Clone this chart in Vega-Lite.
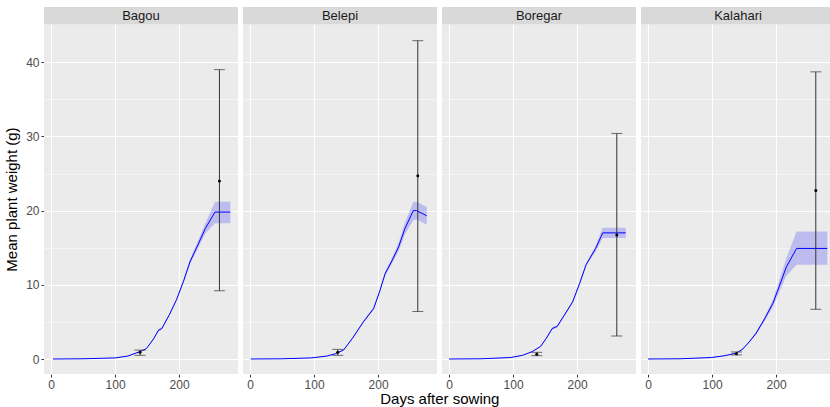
{
  "$schema": "https://vega.github.io/schema/vega-lite/v6.json",
  "padding": {"left": 4, "top": 7, "right": 0, "bottom": 2},
  "background": "white",
  "title": {"text": "Days after sowing", "orient": "bottom", "anchor": "middle", "dx": 20, "fontSize": 15, "fontWeight": "normal", "color": "black", "font": "Liberation Sans", "offset": 2},
  "config": {
    "font": "Liberation Sans",
    "view": {"stroke": null, "fill": "#EBEBEB"},
    "axis": {"domain": false, "gridColor": "white", "tickColor": "#333333", "tickSize": 3, "labelColor": "#4D4D4D", "labelFontSize": 12, "titleFontSize": 15, "titleColor": "black", "titleFontWeight": "normal", "labelPadding": 2, "titlePadding": 6},
    "facet": {"spacing": 5}
  },
  "data": {"values": [
    {"type": "strip", "variety": "Bagou"},
    {"type": "strip", "variety": "Belepi"},
    {"type": "strip", "variety": "Boregar"},
    {"type": "strip", "variety": "Kalahari"},

    {"type": "fit", "variety": "Bagou", "day": 3, "fit": 0, "lo": 0, "hi": 0},
    {"type": "fit", "variety": "Bagou", "day": 50, "fit": 0.03, "lo": 0.02, "hi": 0.04},
    {"type": "fit", "variety": "Bagou", "day": 100, "fit": 0.15, "lo": 0.12, "hi": 0.18},
    {"type": "fit", "variety": "Bagou", "day": 120, "fit": 0.4, "lo": 0.36, "hi": 0.44},
    {"type": "fit", "variety": "Bagou", "day": 139, "fit": 1.0, "lo": 0.95, "hi": 1.05},
    {"type": "fit", "variety": "Bagou", "day": 149, "fit": 1.4, "lo": 1.34, "hi": 1.46},
    {"type": "fit", "variety": "Bagou", "day": 160, "fit": 2.7, "lo": 2.6, "hi": 2.8},
    {"type": "fit", "variety": "Bagou", "day": 168, "fit": 3.9, "lo": 3.75, "hi": 4.05},
    {"type": "fit", "variety": "Bagou", "day": 173, "fit": 4.1, "lo": 3.95, "hi": 4.25},
    {"type": "fit", "variety": "Bagou", "day": 185, "fit": 6.0, "lo": 5.85, "hi": 6.15},
    {"type": "fit", "variety": "Bagou", "day": 196, "fit": 8.0, "lo": 7.85, "hi": 8.15},
    {"type": "fit", "variety": "Bagou", "day": 207, "fit": 10.5, "lo": 10.3, "hi": 10.7},
    {"type": "fit", "variety": "Bagou", "day": 217, "fit": 13.1, "lo": 12.75, "hi": 13.45},
    {"type": "fit", "variety": "Bagou", "day": 230, "fit": 15.5, "lo": 15.0, "hi": 16.0},
    {"type": "fit", "variety": "Bagou", "day": 241, "fit": 17.6, "lo": 16.9, "hi": 18.3},
    {"type": "fit", "variety": "Bagou", "day": 256, "fit": 19.8, "lo": 18.3, "hi": 21.2},
    {"type": "fit", "variety": "Bagou", "day": 280, "fit": 19.8, "lo": 18.3, "hi": 21.2},

    {"type": "fit", "variety": "Belepi", "day": 1, "fit": 0, "lo": 0, "hi": 0},
    {"type": "fit", "variety": "Belepi", "day": 50, "fit": 0.03, "lo": 0.02, "hi": 0.04},
    {"type": "fit", "variety": "Belepi", "day": 96, "fit": 0.15, "lo": 0.12, "hi": 0.18},
    {"type": "fit", "variety": "Belepi", "day": 120, "fit": 0.4, "lo": 0.36, "hi": 0.44},
    {"type": "fit", "variety": "Belepi", "day": 133, "fit": 0.7, "lo": 0.65, "hi": 0.75},
    {"type": "fit", "variety": "Belepi", "day": 146, "fit": 1.2, "lo": 1.14, "hi": 1.26},
    {"type": "fit", "variety": "Belepi", "day": 160, "fit": 2.8, "lo": 2.7, "hi": 2.9},
    {"type": "fit", "variety": "Belepi", "day": 177, "fit": 5.0, "lo": 4.85, "hi": 5.15},
    {"type": "fit", "variety": "Belepi", "day": 193, "fit": 6.8, "lo": 6.6, "hi": 7.0},
    {"type": "fit", "variety": "Belepi", "day": 202, "fit": 9.0, "lo": 8.8, "hi": 9.2},
    {"type": "fit", "variety": "Belepi", "day": 211, "fit": 11.5, "lo": 11.2, "hi": 11.8},
    {"type": "fit", "variety": "Belepi", "day": 222, "fit": 13.3, "lo": 12.9, "hi": 13.7},
    {"type": "fit", "variety": "Belepi", "day": 232, "fit": 15.1, "lo": 14.5, "hi": 15.7},
    {"type": "fit", "variety": "Belepi", "day": 242, "fit": 17.6, "lo": 16.8, "hi": 18.4},
    {"type": "fit", "variety": "Belepi", "day": 255, "fit": 20.0, "lo": 18.7, "hi": 21.2},
    {"type": "fit", "variety": "Belepi", "day": 260, "fit": 20.0, "lo": 18.8, "hi": 21.2},
    {"type": "fit", "variety": "Belepi", "day": 276, "fit": 19.3, "lo": 18.1, "hi": 20.5},

    {"type": "fit", "variety": "Boregar", "day": 0, "fit": 0, "lo": 0, "hi": 0},
    {"type": "fit", "variety": "Boregar", "day": 50, "fit": 0.03, "lo": 0.02, "hi": 0.04},
    {"type": "fit", "variety": "Boregar", "day": 96, "fit": 0.2, "lo": 0.17, "hi": 0.23},
    {"type": "fit", "variety": "Boregar", "day": 115, "fit": 0.5, "lo": 0.46, "hi": 0.54},
    {"type": "fit", "variety": "Boregar", "day": 130, "fit": 1.0, "lo": 0.95, "hi": 1.05},
    {"type": "fit", "variety": "Boregar", "day": 143, "fit": 1.7, "lo": 1.63, "hi": 1.77},
    {"type": "fit", "variety": "Boregar", "day": 152, "fit": 2.8, "lo": 2.7, "hi": 2.9},
    {"type": "fit", "variety": "Boregar", "day": 161, "fit": 4.1, "lo": 3.95, "hi": 4.25},
    {"type": "fit", "variety": "Boregar", "day": 169, "fit": 4.4, "lo": 4.25, "hi": 4.55},
    {"type": "fit", "variety": "Boregar", "day": 180, "fit": 5.9, "lo": 5.75, "hi": 6.05},
    {"type": "fit", "variety": "Boregar", "day": 193, "fit": 7.7, "lo": 7.55, "hi": 7.85},
    {"type": "fit", "variety": "Boregar", "day": 204, "fit": 10.2, "lo": 10.0, "hi": 10.4},
    {"type": "fit", "variety": "Boregar", "day": 214, "fit": 12.7, "lo": 12.5, "hi": 12.9},
    {"type": "fit", "variety": "Boregar", "day": 229, "fit": 14.9, "lo": 14.5, "hi": 15.3},
    {"type": "fit", "variety": "Boregar", "day": 240, "fit": 17.0, "lo": 16.3, "hi": 17.7},
    {"type": "fit", "variety": "Boregar", "day": 276, "fit": 17.0, "lo": 16.3, "hi": 17.7},

    {"type": "fit", "variety": "Kalahari", "day": 0, "fit": 0, "lo": 0, "hi": 0},
    {"type": "fit", "variety": "Kalahari", "day": 50, "fit": 0.03, "lo": 0.02, "hi": 0.04},
    {"type": "fit", "variety": "Kalahari", "day": 99, "fit": 0.2, "lo": 0.17, "hi": 0.23},
    {"type": "fit", "variety": "Kalahari", "day": 120, "fit": 0.45, "lo": 0.41, "hi": 0.49},
    {"type": "fit", "variety": "Kalahari", "day": 138, "fit": 0.8, "lo": 0.75, "hi": 0.85},
    {"type": "fit", "variety": "Kalahari", "day": 148, "fit": 1.35, "lo": 1.28, "hi": 1.42},
    {"type": "fit", "variety": "Kalahari", "day": 158, "fit": 2.3, "lo": 2.2, "hi": 2.4},
    {"type": "fit", "variety": "Kalahari", "day": 169, "fit": 3.5, "lo": 3.3, "hi": 3.7},
    {"type": "fit", "variety": "Kalahari", "day": 182, "fit": 5.4, "lo": 5.1, "hi": 5.7},
    {"type": "fit", "variety": "Kalahari", "day": 195, "fit": 7.5, "lo": 7.0, "hi": 8.0},
    {"type": "fit", "variety": "Kalahari", "day": 205, "fit": 9.8, "lo": 9.0, "hi": 10.6},
    {"type": "fit", "variety": "Kalahari", "day": 216, "fit": 12.4, "lo": 11.2, "hi": 13.6},
    {"type": "fit", "variety": "Kalahari", "day": 232, "fit": 14.9, "lo": 12.7, "hi": 17.2},
    {"type": "fit", "variety": "Kalahari", "day": 280, "fit": 14.9, "lo": 12.7, "hi": 17.2},

    {"type": "obs", "variety": "Bagou", "day": 139, "mean": 0.9, "lo": 0.5, "hi": 1.2},
    {"type": "obs", "variety": "Bagou", "day": 263, "mean": 24.0, "lo": 9.2, "hi": 39.0},
    {"type": "obs", "variety": "Belepi", "day": 137, "mean": 0.9, "lo": 0.5, "hi": 1.3},
    {"type": "obs", "variety": "Belepi", "day": 262, "mean": 24.7, "lo": 6.4, "hi": 42.9},
    {"type": "obs", "variety": "Boregar", "day": 137, "mean": 0.65, "lo": 0.45, "hi": 0.9},
    {"type": "obs", "variety": "Boregar", "day": 262, "mean": 16.7, "lo": 3.1, "hi": 30.4},
    {"type": "obs", "variety": "Kalahari", "day": 138, "mean": 0.7, "lo": 0.55, "hi": 0.95},
    {"type": "obs", "variety": "Kalahari", "day": 262, "mean": 22.7, "lo": 6.7, "hi": 38.7}
  ]},
  "facet": {"column": {"field": "variety", "type": "nominal", "header": {"labels": false, "title": null}}},
  "spec": {
    "width": 194,
    "height": 367,
    "layer": [
      {
        "transform": [{"filter": "datum.type === 'fit'"}],
        "mark": {"type": "area", "color": "#0000FF", "opacity": 0.2},
        "encoding": {
          "x": {"field": "day", "type": "quantitative", "title": null,
                "scale": {"domain": [-11, 292], "nice": false, "zero": false},
                "axis": {"values": [0, 50, 100, 150, 200, 250], "labelExpr": "datum.value % 100 === 0 ? datum.label : ''",
                         "gridWidth": {"condition": {"test": "datum.value % 100 === 0", "value": 1.1}, "value": 0.5},
                         "tickOpacity": {"condition": {"test": "datum.value % 100 === 0", "value": 1}, "value": 0}}},
          "y": {"field": "lo", "type": "quantitative", "title": "Mean plant weight (g)",
                "scale": {"domain": [-2.02, 47.44], "nice": false, "zero": false},
                "axis": {"values": [0, 5, 10, 15, 20, 25, 30, 35, 40], "labelExpr": "datum.value % 10 === 0 ? datum.label : ''",
                         "titleY": 192,
                         "gridWidth": {"condition": {"test": "datum.value % 10 === 0", "value": 1.1}, "value": 0.5},
                         "tickOpacity": {"condition": {"test": "datum.value % 10 === 0", "value": 1}, "value": 0}}},
          "y2": {"field": "hi"}
        }
      },
      {
        "transform": [{"filter": "datum.type === 'strip'"}],
        "mark": {"type": "rect", "color": "#D9D9D9"},
        "encoding": {
          "x": {"datum": -11, "type": "quantitative"},
          "x2": {"datum": 292},
          "y": {"datum": 45.11, "type": "quantitative"},
          "y2": {"datum": 47.44}
        }
      },
      {
        "transform": [{"filter": "datum.type === 'strip'"}],
        "mark": {"type": "text", "fontSize": 13, "color": "#1A1A1A", "baseline": "middle", "align": "center"},
        "encoding": {
          "x": {"datum": 140.5, "type": "quantitative"},
          "y": {"datum": 46.25, "type": "quantitative"},
          "text": {"field": "variety"}
        }
      },
      {
        "transform": [{"filter": "datum.type === 'fit'"}],
        "mark": {"type": "line", "color": "#0000FF", "strokeWidth": 1},
        "encoding": {
          "x": {"field": "day", "type": "quantitative", "title": null},
          "y": {"field": "fit", "type": "quantitative", "title": "Mean plant weight (g)"}
        }
      },
      {
        "transform": [{"filter": "datum.type === 'obs'"}],
        "mark": {"type": "rule", "color": "#333333", "strokeWidth": 1},
        "encoding": {
          "x": {"field": "day", "type": "quantitative", "title": null},
          "y": {"field": "lo", "type": "quantitative", "title": "Mean plant weight (g)"},
          "y2": {"field": "hi"}
        }
      },
      {
        "transform": [{"filter": "datum.type === 'obs'"}],
        "mark": {"type": "tick", "color": "#333333", "orient": "horizontal", "size": 11, "thickness": 1},
        "encoding": {
          "x": {"field": "day", "type": "quantitative", "title": null},
          "y": {"field": "lo", "type": "quantitative", "title": "Mean plant weight (g)"}
        }
      },
      {
        "transform": [{"filter": "datum.type === 'obs'"}],
        "mark": {"type": "tick", "color": "#333333", "orient": "horizontal", "size": 11, "thickness": 1},
        "encoding": {
          "x": {"field": "day", "type": "quantitative", "title": null},
          "y": {"field": "hi", "type": "quantitative", "title": "Mean plant weight (g)"}
        }
      },
      {
        "transform": [{"filter": "datum.type === 'obs'"}],
        "mark": {"type": "circle", "color": "black", "size": 9, "opacity": 1},
        "encoding": {
          "x": {"field": "day", "type": "quantitative", "title": null},
          "y": {"field": "mean", "type": "quantitative", "title": "Mean plant weight (g)"}
        }
      }
    ]
  }
}
